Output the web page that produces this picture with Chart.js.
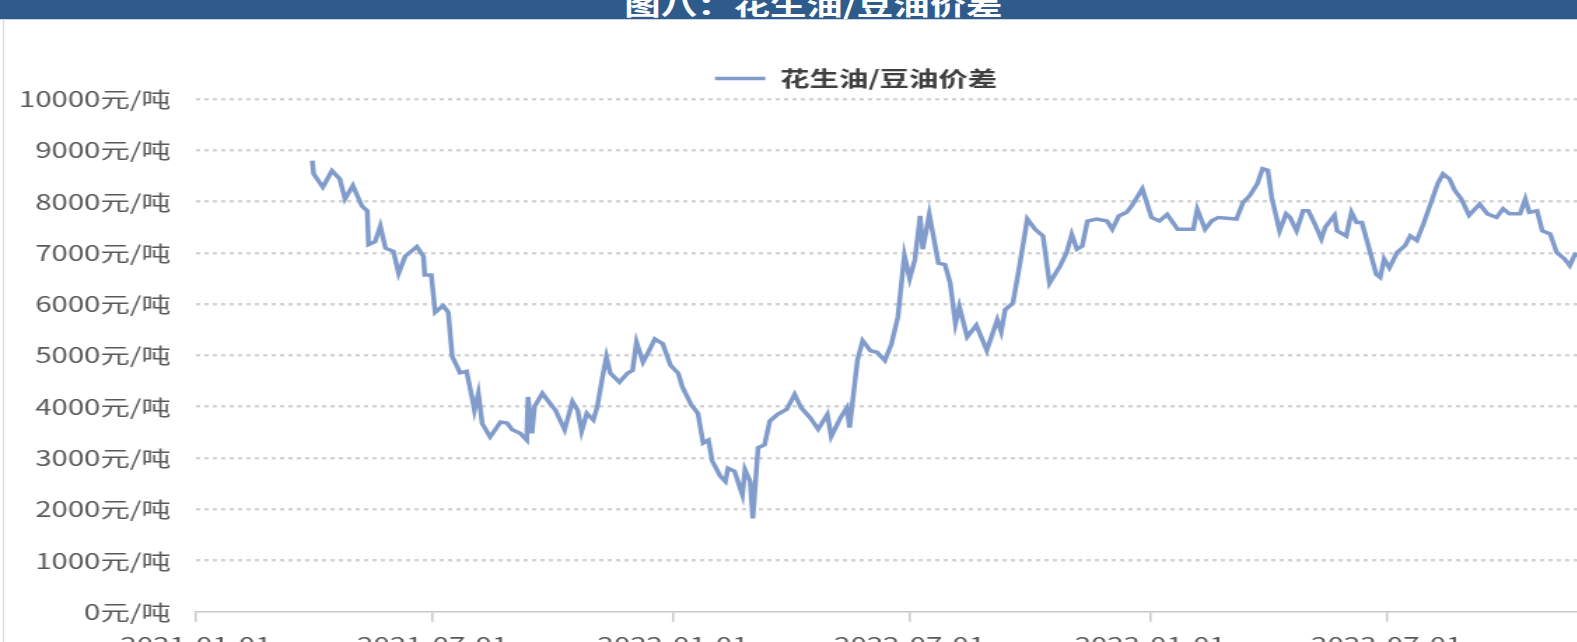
<!DOCTYPE html>
<html>
<head>
<meta charset="utf-8">
<script src="https://cdn.jsdelivr.net/npm/chart.js@4"></script>
<style>
  html, body { margin: 0; padding: 0; overflow: hidden; background: #fff; }
  #wrap { position: absolute; left: 0; top: 0; width: 1233px; height: 668px; transform: scaleX(1.4); transform-origin: 0 0; }
  #head { position: absolute; left: 0; top: 0; width: 100%; height: 19px; background: #2f5b8c; overflow: hidden; z-index: 2; border-bottom: 1px solid #c9d3e0; }
  #head span { position: absolute; left: 436px; top: -15px; width: 290px; text-align: center; line-height: 26px; font: bold 26px "Noto Sans CJK SC", sans-serif; color: #fff; white-space: nowrap; }
  #frame { position: absolute; left: 2px; top: 19px; width: 0; height: 668px; border-left: 1px solid #d9d9d9; z-index: 2; }
  #c { position: absolute; left: 0; top: 0; }
</style>
</head>
<body>
<div id="wrap">
  <div id="head"><span>图八：花生油/豆油价差</span></div>
  <div id="frame"></div>
  <canvas id="c" width="1233" height="668"></canvas>
</div>
<script>
// 日期：距 2021-01-01 的天数
const days = [
  89, 90, 97, 104, 110, 114, 120, 127, 131, 132, 137, 141, 145, 151, 155, 160,
  169, 174, 175, 180, 183, 189, 193, 196, 202, 207, 211, 213, 216, 219, 225, 233,
  238, 242, 248, 253, 254, 257, 259, 265, 271, 275, 282, 288, 292, 295, 299, 304,
  307, 311, 314, 317, 324, 330, 334, 337, 342, 346, 351, 355, 357, 363, 369, 372,
  379, 384, 388, 392, 395, 401, 405, 407, 412, 418, 420, 424, 426, 430, 435, 439,
  445, 452, 458, 463, 470, 476, 483, 486, 493, 498, 500, 506, 510, 516, 521, 527,
  532, 537, 542, 546, 550, 554, 556, 561, 568, 573, 577, 581, 584, 590, 597, 605,
  613, 616, 619, 625, 630, 636, 642, 648, 653, 661, 666, 670, 674, 678, 682, 689,
  697, 701, 706, 712, 716, 724, 731, 737, 743, 751, 763, 766, 772, 777, 782, 796,
  801, 806, 812, 816, 820, 823, 829, 834, 837, 842, 847, 851, 856, 861, 864, 871,
  873, 880, 884, 888, 892, 898, 903, 906, 909, 913, 919, 925, 929, 934, 939, 945,
  950, 954, 959, 963, 968, 974, 982, 988, 995, 1000, 1005, 1013, 1017, 1020, 1026, 1030,
  1036, 1041, 1047, 1051, 1055, 1058
];

// 花生油/豆油价差（元/吨）
const spread = [
  8800, 8540, 8280, 8600, 8440, 8050, 8310, 7910, 7820, 7160, 7220, 7520, 7090, 7030, 6600, 6930,
  7120, 6930, 6570, 6570, 5840, 5970, 5840, 4980, 4660, 4690, 4200, 3930, 4260, 3670, 3410, 3700,
  3680, 3550, 3480, 3350, 4190, 3480, 4000, 4260, 4060, 3930, 3550, 4100, 3930, 3520, 3870, 3740,
  4000, 4580, 4970, 4650, 4480, 4650, 4710, 5260, 4870, 5060, 5320, 5260, 5230, 4810, 4650, 4390,
  4030, 3870, 3290, 3350, 2940, 2650, 2540, 2800, 2740, 2280, 2770, 2540, 1820, 3200, 3260, 3720,
  3850, 3950, 4240, 3980, 3780, 3560, 3850, 3420, 3780, 3980, 3590, 4900, 5290, 5090, 5060, 4900,
  5220, 5750, 6950, 6500, 6870, 7720, 7070, 7750, 6800, 6770, 6410, 5620, 5950, 5360, 5590, 5100,
  5690, 5460, 5890, 6020, 6740, 7660, 7460, 7330, 6410, 6740, 7000, 7360, 7070, 7130, 7620, 7660,
  7620, 7460, 7720, 7790, 7920, 8250, 7690, 7620, 7750, 7460, 7460, 7850, 7460, 7620, 7690, 7660,
  7980, 8110, 8350, 8640, 8610, 8080, 7430, 7760, 7690, 7430, 7820, 7820, 7560, 7270, 7500, 7730,
  7430, 7330, 7790, 7590, 7590, 7040, 6580, 6520, 6880, 6710, 7010, 7140, 7330, 7240, 7560, 7990,
  8350, 8540, 8440, 8220, 8050, 7730, 7950, 7760, 7690, 7860, 7760, 7760, 8050, 7790, 7820, 7430,
  7370, 7010, 6880, 6750, 6970, 6950
];

const tickLabels = ["2021-01-01", "2021-07-01", "2022-01-01", "2022-07-01", "2023-01-01", "2023-07-01"];
const yTicks = [0, 1000, 2000, 3000, 4000, 5000, 6000, 7000, 8000, 9000, 10000];

const base = Date.parse("2021-01-01");
const tickDays = tickLabels.map((s) => Math.round((Date.parse(s) - base) / 86400000));

const points = days.map((d, i) => ({ x: d, y: spread[i] }));

const ctx = document.getElementById("c").getContext("2d");

new Chart(ctx, {
  type: "line",
  data: {
    datasets: [
      {
        label: "花生油/豆油价差",
        data: points,
        borderColor: "#819ccb",
        backgroundColor: "#819ccb",
        borderWidth: 3.5,
        pointRadius: 0,
        tension: 0,
      },
    ],
  },
  options: {
    responsive: false,
    animation: false,
    layout: { padding: { top: 58, right: 10, bottom: 1, left: 0 } },
    plugins: {
      legend: {
        position: "top",
        labels: {
          usePointStyle: true,
          pointStyle: "line",
          pointStyleWidth: 36,
          boxHeight: 21,
          padding: 10,
          color: "#404040",
          font: { family: "'Noto Sans CJK SC', sans-serif", size: 21, weight: "bold" },
        },
      },
      tooltip: { enabled: false },
    },
    scales: {
      x: {
        type: "linear",
        min: 0,
        max: 1160,
        afterBuildTicks: (axis) => {
          axis.ticks = tickDays.map((v) => ({ value: v }));
        },
        grid: {
          drawOnChartArea: false,
          drawTicks: true,
          tickLength: 10,
          color: "#c8c8c8",
          lineWidth: 1.5,
        },
        border: { display: true, color: "#c8c8c8", width: 1.5 },
        ticks: {
          autoSkip: false,
          maxRotation: 0,
          padding: 10,
          color: "#595959",
          font: { family: "'Noto Sans CJK SC', sans-serif", size: 21 },
          callback: (v) => tickLabels[tickDays.indexOf(v)] || "",
        },
      },
      y: {
        min: 0,
        max: 10000,
        afterBuildTicks: (axis) => {
          axis.ticks = yTicks.map((v) => ({ value: v }));
        },
        afterFit: (axis) => {
          axis.width = 140;
        },
        grid: {
          drawTicks: false,
          color: (c) => (c.tick && c.tick.value === 0 ? "rgba(0,0,0,0)" : "#d4d4d4"),
          lineWidth: 2.5,
        },
        border: { display: false, dash: [3, 3] },
        ticks: {
          padding: 18,
          color: "#595959",
          font: { family: "'Noto Sans CJK SC', sans-serif", size: 21 },
          callback: (v) => v + "元/吨",
        },
      },
    },
  },
});
</script>
</body>
</html>
